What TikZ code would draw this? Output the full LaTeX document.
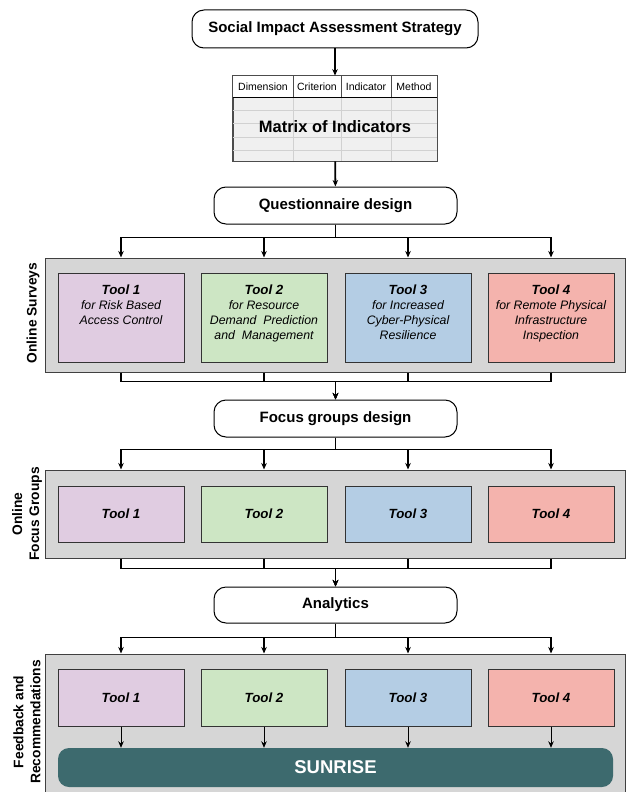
\documentclass[tikz,border=0pt]{standalone}
\usepackage{fontspec}
\setmainfont{Liberation Sans}
\usetikzlibrary{arrows.meta, positioning, calc}

\definecolor{panelgray}{HTML}{D6D6D6}
\definecolor{toolA}{HTML}{E0CCE1}
\definecolor{toolB}{HTML}{CDE6C4}
\definecolor{toolC}{HTML}{B4CDE4}
\definecolor{toolD}{HTML}{F4B3AD}
\definecolor{sunteal}{HTML}{3D6A6E}
\newcommand{\tooltl}[1]{{\fontsize{13.3}{17}\selectfont\bfseries\itshape #1}}

\begin{document}
\begin{tikzpicture}[
  x=1pt, y=-1pt, >={Stealth[length=6.5pt,width=5.5pt]},
  term/.style={draw, line width=1pt, rounded corners=12pt, minimum width=243pt, minimum height=37pt, font=\fontsize{15}{17}\selectfont\bfseries},
  panel/.style={draw=black!75, line width=1pt, fill=panelgray, minimum width=580pt},
  tool/.style={draw=black!80, line width=1pt, minimum width=126pt, align=center, font=\fontsize{12.3}{15}\selectfont\itshape},
  bus/.style={draw, line width=1.8pt},
  side/.style={rotate=90, align=center, font=\fontsize{13.8}{17}\selectfont\bfseries}
  ]
  \useasboundingbox (0,0) rectangle (630,792);
  % strategy and matrix
  \node[term, minimum width=286pt, minimum height=38pt] (sia) at (335,29) {Social Impact Assessment Strategy};
  \node[draw=black!70, line width=0.8pt, fill=black!6, minimum width=204pt, minimum height=85pt] (moi) at (335,118.5) {};
  \fill[white] (moi.north west) rectangle ($(moi.north east)+(0,21)$);
  \foreach \y in {110,123,137,150} \draw[black!18] (233,\y) -- (437,\y);
  \foreach \x in {293,341,391} {
    \draw[black!18] (\x,97) -- (\x,161);
    \draw[black!70] (\x,76) -- (\x,97);
  }
  \draw[line width=1pt] (233,97) -- (437,97);
  \draw[draw=black!70, line width=0.8pt] (moi.north west) rectangle (moi.south east);
  \node[font=\fontsize{10.5}{12}\selectfont] (hd1) at (263,87) {Dimension};
  \node[font=\fontsize{10.5}{12}\selectfont] (hd2) at (317,87) {Criterion};
  \node[font=\fontsize{10.5}{12}\selectfont] (hd3) at (366,87) {Indicator};
  \node[font=\fontsize{10.5}{12}\selectfont] (hd4) at (414,87) {Method};
  \node[font=\fontsize{16.5}{18}\selectfont\bfseries] (moit) at (335,127) {Matrix of Indicators};
  \node[term] (qd) at (335.5,205.5) {Questionnaire design};
  \draw[bus,->] (sia) -- (moi);
  \draw[bus,->] (moi) -- (qd);
  % online surveys
  \node[panel, minimum height=114pt] (p1) at (335,315) {};
  \node[side] (l1) at (33,313) {Online Surveys};
  \node[tool, fill=toolA, minimum height=89pt] (s1) at (121,317.5) {};
  \node[tool, fill=toolB, minimum height=89pt] (s2) at (264,317.5) {};
  \node[tool, fill=toolC, minimum height=89pt] (s3) at (408,317.5) {};
  \node[tool, fill=toolD, minimum height=89pt] (s4) at (551,317.5) {};
  \node[tool, draw=none, anchor=north] at ($(s1.north)+(0,9)$) {\tooltl{Tool 1}\\for Risk Based\\Access Control};
  \node[tool, draw=none, anchor=north] at ($(s2.north)+(0,9)$) {\tooltl{Tool 2}\\for Resource\\Demand\ \ Prediction\\and\ \ Management};
  \node[tool, draw=none, anchor=north] at ($(s3.north)+(0,9)$) {\tooltl{Tool 3}\\for Increased\\Cyber-Physical\\Resilience};
  \node[tool, draw=none, anchor=north] at ($(s4.north)+(0,9)$) {\tooltl{Tool 4}\\for Remote Physical\\Infrastructure\\Inspection};
  \node[term] (fg) at (335.5,418.5) {Focus groups design};
  \foreach \i in {1,...,4} {
    \draw[bus,->] (qd.south) -- ++(0,13) -| (s\i.north |- p1.north);
    \draw[bus,->] (s\i.south |- p1.south) -- ++(0,9) -| (fg.north);
  }
  % online focus groups
  \node[panel, minimum height=88pt] (p2) at (335,514) {};
  \node[side] (l2) at (27,514) {Online\\Focus Groups};
  \node[tool, fill=toolA, minimum height=56pt] (f1) at (121,514) {\tooltl{Tool 1}};
  \node[tool, fill=toolB, minimum height=56pt] (f2) at (264,514) {\tooltl{Tool 2}};
  \node[tool, fill=toolC, minimum height=56pt] (f3) at (408,514) {\tooltl{Tool 3}};
  \node[tool, fill=toolD, minimum height=56pt] (f4) at (551,514) {\tooltl{Tool 4}};
  \node[term, minimum height=36pt] (an) at (335.5,605) {Analytics};
  \foreach \i in {1,...,4} {
    \draw[bus,->] (fg.south) -- ++(0,12) -| (f\i.north |- p2.north);
    \draw[bus,->] (f\i.south |- p2.south) -- ++(0,10) -| (an.north);
  }
  % feedback
  \node[panel, minimum height=141pt] (p3) at (335,724.5) {};
  \node[side] (l3) at (27,722) {Feedback and\\Recommendations};
  \node[tool, fill=toolA, minimum height=57pt] (r1) at (121,697.5) {\tooltl{Tool 1}};
  \node[tool, fill=toolB, minimum height=57pt] (r2) at (264,697.5) {\tooltl{Tool 2}};
  \node[tool, fill=toolC, minimum height=57pt] (r3) at (408,697.5) {\tooltl{Tool 3}};
  \node[tool, fill=toolD, minimum height=57pt] (r4) at (551,697.5) {\tooltl{Tool 4}};
  \node[fill=sunteal, rounded corners=11pt, minimum width=555pt, minimum height=39pt, text=white, font=\fontsize{18.5}{20}\selectfont\bfseries] (sun) at (335.5,767.5) {SUNRISE};
  \foreach \i in {1,...,4} {
    \draw[bus,->] (an.south) -- ++(0,14) -| (r\i.north |- p3.north);
    \draw[line width=1pt,->] (r\i) -- (r\i |- sun.north);
  }
\end{tikzpicture}
\end{document}
